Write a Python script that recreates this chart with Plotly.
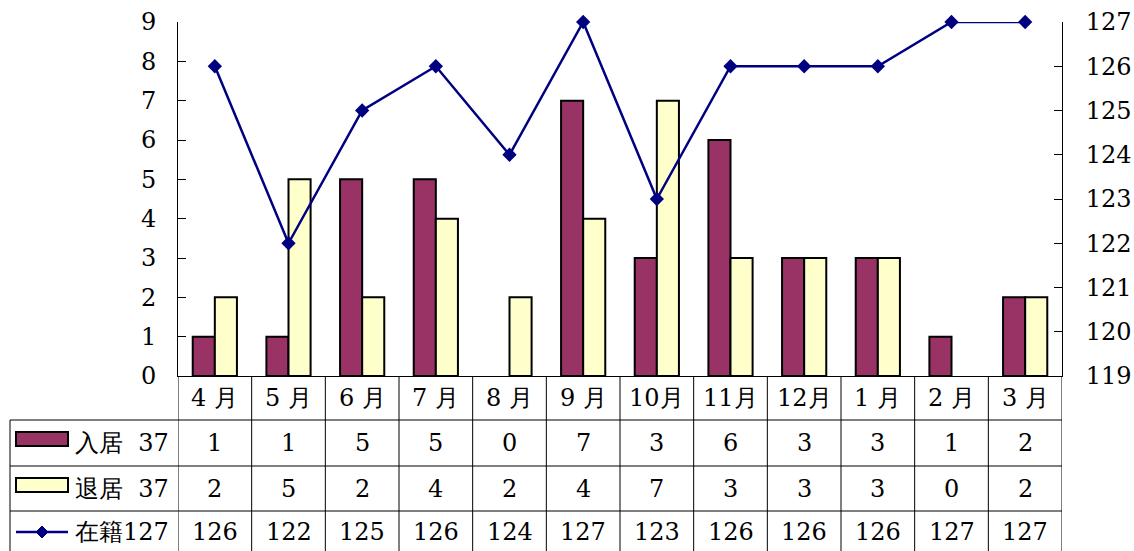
import plotly.graph_objects as go

months = ["4 月", "5 月", "6 月", "7 月", "8 月", "9 月", "10月", "11月", "12月", "1 月", "2 月", "3 月"]
move_in = [1, 1, 5, 5, 0, 7, 3, 6, 3, 3, 1, 2]
move_out = [2, 5, 2, 4, 2, 4, 7, 3, 3, 3, 0, 2]
enrolled = [126, 122, 125, 126, 124, 127, 123, 126, 126, 126, 127, 127]
row_labels = ["入居  37", "退居  37", "在籍127"]

C_IN = "#993366"
C_OUT = "#FFFFCC"
C_LINE = "#000080"
FONT = "DejaVu Serif"
FS = 24

L, R, T, B = 178, 1062, 22, 376
def px(x):
    return (x - L) / (R - L)
def py(y):
    return (B - y) / (B - T)

def nz(vals):
    return [v if v else None for v in vals]

fig = go.Figure()
fig.add_trace(go.Bar(x=months, y=nz(move_in), name="入居", marker=dict(color=C_IN, line=dict(color="black", width=2))))
fig.add_trace(go.Bar(x=months, y=nz(move_out), name="退居", marker=dict(color=C_OUT, line=dict(color="black", width=2))))
fig.add_trace(go.Scatter(x=months, y=enrolled, name="在籍", yaxis="y2", mode="lines+markers",
                         line=dict(color=C_LINE, width=2.5), cliponaxis=False,
                         marker=dict(symbol="diamond", size=11, color=C_LINE)))

shapes = []
annotations = []
row_lines = [420, 466, 511]
row_centers = [443, 488.5, 532]
month_center = 398
for y in row_lines:
    shapes.append(dict(type="line", xref="paper", yref="paper", x0=px(10), x1=px(R), y0=py(y), y1=py(y),
                       line=dict(color="black", width=1)))
shapes.append(dict(type="line", xref="paper", yref="paper", x0=px(10), x1=px(10), y0=py(420), y1=py(560),
                   line=dict(color="black", width=1)))
for i in range(len(months) + 1):
    shapes.append(dict(type="line", xref="x", yref="paper", x0=i - 0.5, x1=i - 0.5, y0=0, y1=py(560),
                       line=dict(color="black", width=1)))
for m in months:
    annotations.append(dict(x=m, y=py(month_center), xref="x", yref="paper", text=m, showarrow=False,
                            font=dict(family=FONT, size=FS, color="black"), yanchor="middle"))
for vals, yc in zip([move_in, move_out, enrolled], row_centers):
    for m, v in zip(months, vals):
        annotations.append(dict(x=m, y=py(yc), xref="x", yref="paper", text=str(v), showarrow=False,
                                font=dict(family=FONT, size=FS, color="black"), yanchor="middle"))
for lab, yc in zip(row_labels, row_centers):
    annotations.append(dict(x=px(73), y=py(yc), xref="paper", yref="paper", text=lab, showarrow=False,
                            xanchor="left", yanchor="middle", font=dict(family=FONT, size=FS, color="black")))
shapes.append(dict(type="rect", xref="paper", yref="paper", x0=px(16), x1=px(68), y0=py(432), y1=py(446),
                   fillcolor=C_IN, line=dict(color="black", width=2)))
shapes.append(dict(type="rect", xref="paper", yref="paper", x0=px(16), x1=px(68), y0=py(478), y1=py(492),
                   fillcolor=C_OUT, line=dict(color="black", width=2)))
shapes.append(dict(type="line", xref="paper", yref="paper", x0=px(16), x1=px(68), y0=py(532), y1=py(532),
                   line=dict(color=C_LINE, width=2.5)))
cx, cy, d = 42, 532, 6
shapes.append(dict(type="path", xref="paper", yref="paper",
                   path=f"M {px(cx-d)},{py(cy)} L {px(cx)},{py(cy-d)} L {px(cx+d)},{py(cy)} L {px(cx)},{py(cy+d)} Z",
                   fillcolor=C_LINE, line=dict(color=C_LINE, width=1)))

fig.update_layout(
    width=1134, height=551,
    margin=dict(l=L, r=1134 - R, t=T, b=551 - B, pad=0, autoexpand=False),
    paper_bgcolor="white", plot_bgcolor="white",
    showlegend=False, barmode="group", bargap=0.4, bargroupgap=0,
    font=dict(family=FONT, size=FS, color="black"),
    xaxis=dict(type="category", range=[-0.5, 11.5], showticklabels=False, ticks="", automargin=False,
               showline=True, linecolor="black", linewidth=1, showgrid=False, zeroline=False),
    yaxis=dict(range=[0, 9], dtick=1, ticks="inside", ticklen=8, tickcolor="black", automargin=False,
               showline=True, linecolor="black", linewidth=1, showgrid=False, zeroline=False,
               ticklabelstandoff=16, tickfont=dict(family=FONT, size=FS)),
    yaxis2=dict(range=[119, 127], dtick=1, overlaying="y", side="right", ticks="inside", ticklen=8,
                tickcolor="black", showline=True, linecolor="black", linewidth=1, showgrid=False,
                automargin=False, zeroline=False, ticklabelstandoff=18, tickfont=dict(family=FONT, size=FS)),
    shapes=shapes, annotations=annotations,
)
fig.write_html("out.html")
